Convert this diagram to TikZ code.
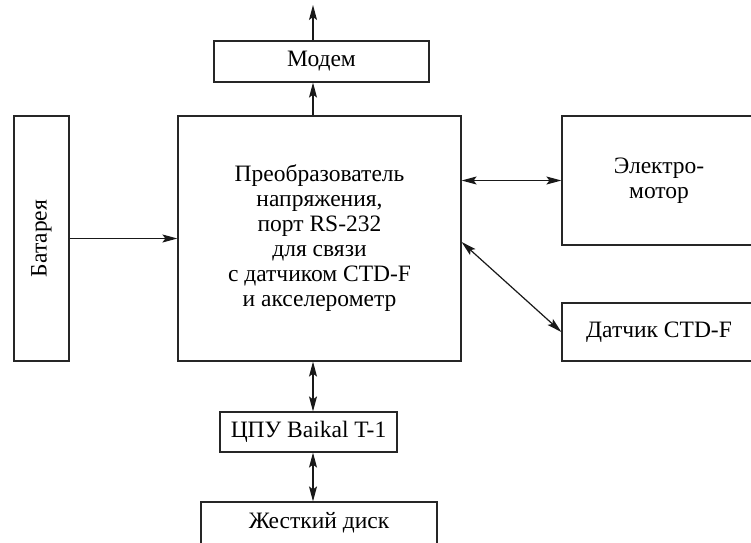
\documentclass[tikz,border=0pt]{standalone}
\usepackage{fontspec}
\setmainfont{Liberation Serif}
\usetikzlibrary{arrows.meta}
\begin{document}
\begin{tikzpicture}[x=1pt,y=-1pt,
  box/.style={draw=black!85, line width=1.2pt, rectangle, inner sep=0pt, align=center,
    font=\fontsize{23.5}{25}\selectfont},
  conn/.style={draw=black!90, line width=1.2pt},
  ahead/.tip={Stealth[length=15pt,width=8pt,inset=3pt]},
  tip/.style={-ahead},
  bitip/.style={ahead-ahead}]
\clip (0,0) rectangle (751,542);
\fill[white] (0,0) rectangle (751,542);
\node[box, minimum width=215pt, minimum height=41pt] (modem) at (321.5,61.5) {Модем};
\node[box, minimum width=283pt, minimum height=245pt] (main) at (319.5,238.5)
  {Преобразователь\\напряжения,\\порт RS-232\\для связи\\с датчиком CTD-F\\и акселерометр};
\node[box, minimum width=55pt, minimum height=245pt] (bat) at (41.5,238.5)
  {\rotatebox{90}{Батарея}};
\node[box, minimum width=194pt, minimum height=129pt] (motor) at (659,180.5) {Электро-\\мотор};
\node[box, minimum width=194pt, minimum height=58pt] (sens) at (659,332) {Датчик CTD-F};
\node[box, minimum width=177pt, minimum height=40pt] (cpu) at (308.5,432) {ЦПУ Baikal T-1};
\node[box, minimum width=236pt, minimum height=42pt] (disk) at (319,523) {Жесткий диск};
\coordinate (ax) at (313,0);
\coordinate (top) at (313,5);
\draw[conn,tip] (main.north -| ax) -- (modem.south -| ax);
\draw[conn,tip] (modem.north -| ax) -- (top);
\draw[conn,tip] (bat.east) -- (bat.east -| main.west);
\draw[conn,bitip] (main.east |- motor.west) -- (motor.west);
\draw[conn,bitip] ([yshift=-3.5pt]main.east) -- (sens.west);
\draw[conn,bitip] (main.south -| ax) -- (cpu.north -| ax);
\draw[conn,bitip] (cpu.south -| ax) -- (disk.north -| ax);
\end{tikzpicture}
\end{document}
